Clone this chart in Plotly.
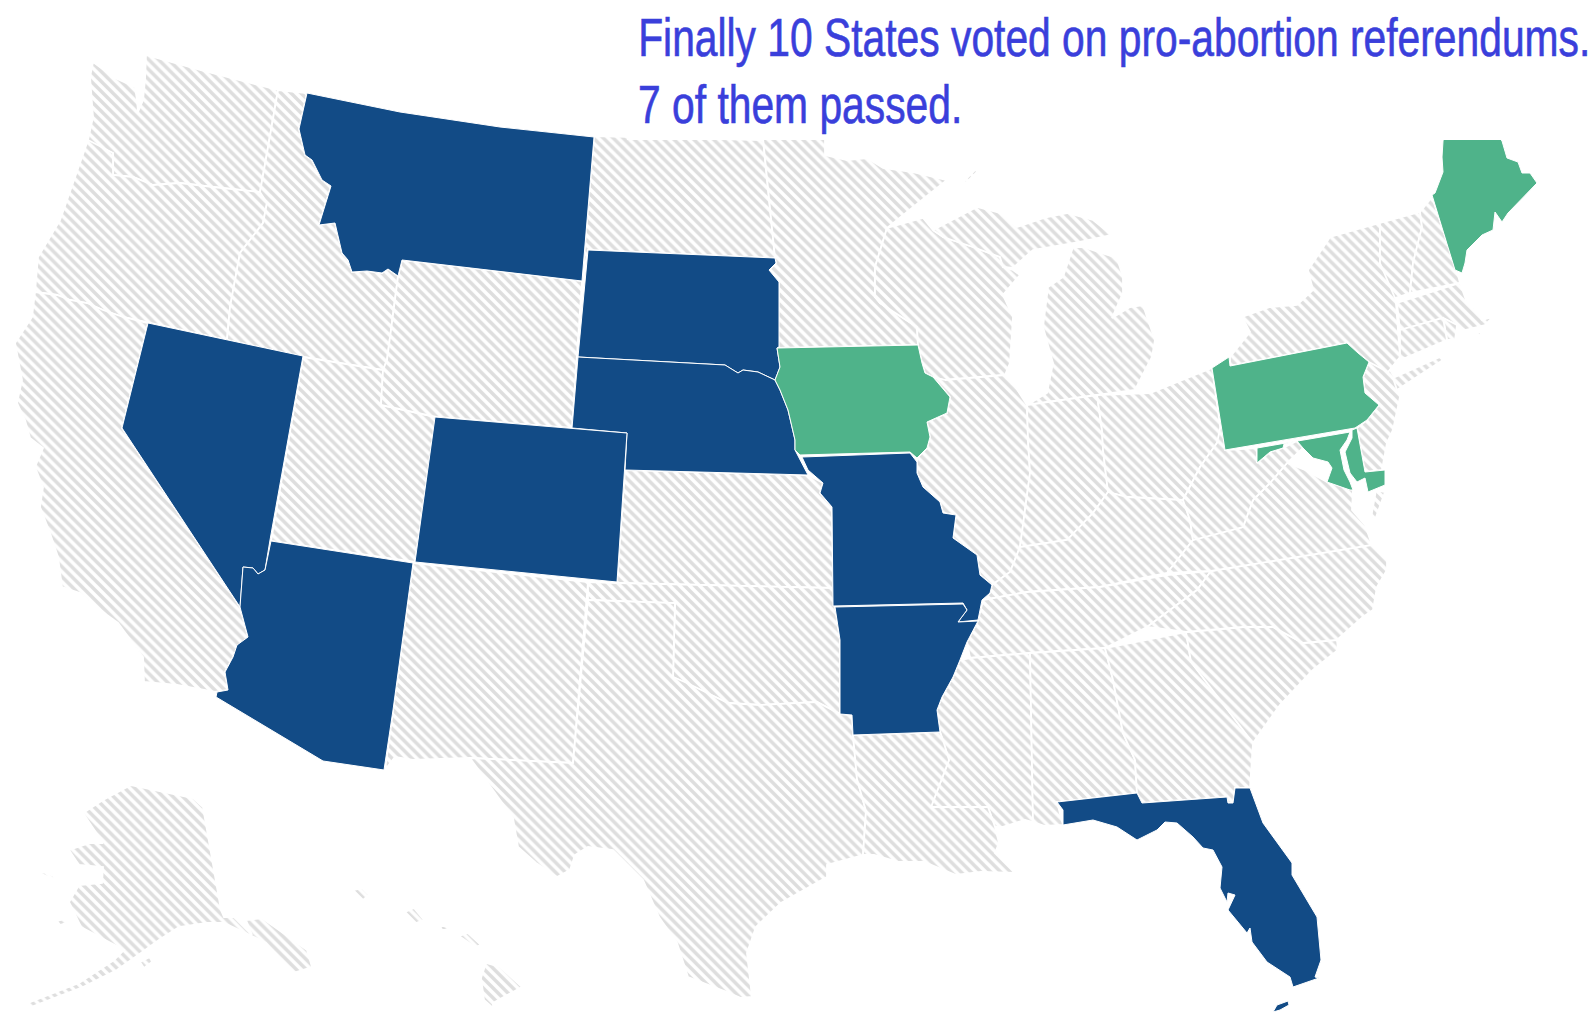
import plotly.graph_objects as go

# ---- outlines, in picture units; None starts a separate island ----
WA = [(93,62),(115,78),(135,87),(137,100),(138,112),(143,100),(145,80),(146,55),(200,70),(278,90),(267,153),(260,192),(213,187),(180,183),(153,185),(133,177),(113,175),(113,153),(90,143),(88,140),(93,117),(90,77)]
OR = [(88,140),(113,153),(113,175),(133,177),(153,185),(180,183),(213,187),(260,192),(267,203),(263,223),(240,253),(230,307),(227,340),(148,323),(123,317),(103,310),(87,303),(70,300),(57,295),(35,292),(38,257),(60,220),(83,153)]
CA = [(35,292),(57,295),(70,300),(87,303),(103,310),(123,317),(148,323),(122,428),(240,607),(248,637),(233,657),(225,672),(228,690),(215,692),(177,685),(144,682),(143,657),(118,623),(107,615),(80,593),(62,587),(58,557),(50,533),(40,507),(43,487),(35,467),(43,448),(30,438),(25,420),(17,403),(22,380),(15,343),(32,317)]
ID = [(278,90),(307,93),(299,129),(305,155),(312,160),(322,180),(331,186),(322,215),(319,225),(335,223),(342,253),(348,260),(352,272),(367,271),(382,273),(388,269),(398,276),(387,360),(383,370),(333,362),(303,357),(227,340),(230,307),(240,253),(263,223),(267,203),(260,192),(267,153)]
UT = [(303,357),(383,370),(381,405),(436,417),(415,562),(271,541)]
WY = [(402,260),(398,277),(387,360),(383,370),(381,405),(436,417),(572,428),(582,281),(490,270)]
NM = [(413,563),(588,582),(573,763),(470,758),(413,760),(395,757),(385,770),(393,710)]
ND = [(594,136),(763,140),(775,258),(588,250),(582,281)]
KS = [(625,470),(808,475),(823,483),(820,493),(832,507),(833,588),(617,583)]
OK = [(588,582),(617,583),(833,588),(835,607),(840,640),(840,714),(817,702),(760,705),(728,703),(687,683),(673,677),(675,603),(588,600)]
TX = [(470,758),(573,763),(588,600),(675,603),(673,677),(687,683),(728,703),(760,705),(817,702),(840,714),(852,715),(853,735),(857,779),(866,811),(863,855),(827,865),(827,877),(781,903),(756,927),(747,953),(752,997),(741,998),(727,992),(688,977),(677,943),(659,917),(643,880),(613,850),(588,847),(575,855),(570,870),(557,877),(536,863),(518,847),(513,818)]
MN = [(763,138),(825,138),(825,155),(847,160),(867,158),(883,168),(913,172),(947,180),(887,228),(875,267),(875,297),(880,303),(917,327),(918,345),(778,348),(779,282),(769,270),(776,263),(775,258)]
WI = [(887,228),(923,218),(933,230),(943,237),(973,247),(1000,257),(1003,267),(1013,270),(1020,275),(1003,295),(1013,317),(1010,363),(1005,375),(945,380),(933,377),(925,373),(922,363),(918,345),(917,327),(880,303),(875,297),(875,267)]
MI = [(1073,247),(1083,247),(1117,258),(1123,277),(1123,293),(1112,318),(1130,307),(1143,305),(1148,320),(1155,340),(1152,357),(1135,390),(1097,395),(1027,405),(1047,393),(1053,363),(1043,327),(1048,287),(1063,277),None,
      (933,230),(977,207),(1000,213),(1017,227),(1047,217),(1067,213),(1093,220),(1112,235),(1080,242),(1033,250),(1013,268),(1003,267),(1000,257),(973,247),(943,237),None,
      (964,181),(977,168),(978,171),(966,183)]
IL = [(945,380),(1005,375),(1013,383),(1027,405),(1028,440),(1030,473),(1020,547),(1010,572),(992,585),(980,575),(977,555),(953,538),(956,515),(943,513),(940,502),(923,487),(917,473),(917,458),(927,448),(930,437),(927,422),(947,413),(950,397),(933,377)]
IN = [(1027,405),(1097,395),(1102,430),(1103,450),(1108,492),(1093,513),(1067,540),(1020,547),(1030,473),(1028,440)]
OH = [(1097,395),(1150,393),(1212,368),(1222,440),(1217,443),(1200,467),(1183,500),(1127,497),(1108,492),(1103,450),(1102,430)]
KY = [(983,600),(990,593),(992,585),(1010,572),(1020,547),(1067,540),(1093,513),(1108,492),(1127,497),(1183,500),(1190,520),(1193,540),(1167,573),(1100,587),(1027,592)]
TN = [(983,600),(1027,592),(1100,587),(1167,575),(1211,571),(1197,590),(1170,610),(1147,627),(1105,648),(1030,653),(970,658),(967,642),(978,621)]
MS = [(970,658),(1030,653),(1033,822),(1025,820),(1002,827),(995,827),(988,807),(931,807),(949,760),(943,740),(940,732),(937,710),(942,697),(953,677),(960,660)]
AL = [(1030,653),(1105,648),(1113,680),(1123,733),(1135,760),(1137,793),(1057,802),(1063,825),(1045,826),(1033,822)]
LA = [(853,735),(940,732),(943,740),(949,760),(931,807),(988,807),(995,827),(999,843),(995,853),(1015,873),(981,872),(956,875),(924,862),(899,862),(874,855),(863,855),(866,811),(857,779)]
GA = [(1105,648),(1186,632),(1191,662),(1222,703),(1253,743),(1250,788),(1235,788),(1233,803),(1228,803),(1227,797),(1142,803),(1137,793),(1135,760),(1123,733),(1113,680)]
SC = [(1186,632),(1243,627),(1273,627),(1303,643),(1337,640),(1338,650),(1313,670),(1280,705),(1253,743),(1222,703),(1191,662)]
NC = [(1211,571),(1367,545),(1372,545),(1387,560),(1387,570),(1377,587),(1373,610),(1363,617),(1337,640),(1303,643),(1273,627),(1243,627),(1186,632),(1147,627),(1170,610),(1197,590)]
VA = [(1167,573),(1193,540),(1243,527),(1253,500),(1270,483),(1287,463),(1305,470),(1327,482),(1353,490),(1352,510),(1365,525),(1372,545),(1211,571),None,
      (1376,490),(1385,492),(1375,520),(1371,518)]
WV = [(1183,500),(1200,467),(1217,443),(1222,420),(1225,450),(1257,448),(1257,463),(1270,452),(1283,448),(1297,441),(1303,448),(1287,463),(1270,483),(1253,500),(1243,527),(1193,540),(1190,520)]
DE = [(1357,428),(1367,420),(1387,443),(1382,470),(1365,472)]
NJ = [(1369,362),(1390,370),(1395,378),(1400,397),(1393,430),(1387,443),(1367,420),(1379,405),(1365,393),(1363,377)]
NY = [(1230,366),(1347,343),(1358,353),(1369,362),(1388,372),(1400,357),(1395,290),(1380,263),(1380,223),(1330,237),(1308,270),(1313,290),(1297,305),(1270,307),(1242,317),(1250,332),(1230,357),None,
      (1393,378),(1440,357),(1443,360),(1397,390)]
VT = [(1380,223),(1420,212),(1422,227),(1413,263),(1410,293),(1395,298),(1380,263)]
NH = [(1420,212),(1432,197),(1458,275),(1460,283),(1410,293),(1413,263),(1422,227)]
MA = [(1397,303),(1460,283),(1467,303),(1477,312),(1482,320),(1493,317),(1485,325),(1465,330),(1457,325),(1443,318),(1400,330),None,
      (1476,332),(1481,332),(1480,336),(1476,336)]
RI = [(1443,318),(1457,325),(1455,340),(1447,340)]
CT = [(1400,330),(1443,318),(1447,340),(1405,358),(1400,357)]
AK = [(131,785),(155,790),(193,798),(203,807),(221,910),(224,917),(234,917),(252,935),(246,920),(262,918),(307,950),(312,967),(293,973),(266,943),(252,936),(224,923),(207,923),(179,927),(159,940),(141,953),(117,970),(83,987),(31,1007),(28,1003),(79,983),(114,960),(124,950),(81,927),(69,902),(79,885),(102,883),(103,867),(79,865),(69,850),(90,843),(103,843),(83,813),(103,800),None,
      (40,873),(46,872),(55,877),(52,879),None,(57,921),(65,919),(66,923),(60,925),None,(140,962),(150,957),(152,962),(144,968)]
HI = [(353,890),(362,888),(369,895),(363,900),None,(405,912),(414,908),(424,920),(416,923),None,(440,926),(447,926),(448,930),(442,930),None,
      (459,936),(468,933),(481,945),(475,947),None,(486,963),(500,967),(522,987),(493,1003),(493,1008),(484,1000),(481,978)]

MT = [(307,93),(400,112),(500,127),(594,137),(582,281),(490,270),(402,260),(398,276),(388,269),(382,273),(367,271),(352,272),(348,260),(342,253),(335,223),(319,225),(322,215),(331,186),(322,180),(312,160),(305,155),(299,129)]
SD = [(588,250),(775,258),(776,263),(769,270),(779,282),(779,347),(777,348),(780,367),(775,380),(758,372),(743,370),(738,373),(725,365),(578,357)]
NE = [(578,357),(725,365),(738,373),(743,370),(758,372),(775,380),(780,390),(788,410),(795,440),(795,450),(808,475),(625,470),(627,433),(572,428)]
CO = [(435,417),(627,433),(617,582),(415,562)]
NV = [(148,323),(303,356),(270,540),(265,570),(258,574),(253,568),(243,567),(240,607),(122,428)]
AZ = [(271,541),(413,563),(393,710),(384,770),(323,761),(216,697),(217,692),(228,690),(225,672),(233,657),(237,645),(248,637),(240,607),(243,567),(253,568),(258,574),(265,570)]
MO = [(802,457),(910,453),(917,462),(917,473),(923,487),(940,502),(943,513),(956,515),(953,538),(977,555),(980,575),(992,585),(990,593),(982,600),(978,620),(958,622),(967,610),(963,603),(833,606),(832,507),(820,493),(823,483),(808,470)]
AR = [(835,607),(963,604),(967,610),(958,622),(978,621),(967,642),(960,660),(953,677),(942,697),(937,710),(940,732),(853,735),(852,715),(840,714),(840,640)]
FL = [(1057,802),(1137,793),(1142,803),(1227,797),(1228,803),(1233,803),(1235,788),(1250,788),(1263,823),(1292,863),(1292,875),(1317,917),(1321,960),(1315,977),(1319,978),(1293,987),(1290,977),(1267,962),(1252,942),(1250,928),(1247,933),(1228,910),(1235,895),(1228,893),(1227,902),(1220,888),(1222,867),(1213,850),(1203,848),(1193,837),(1177,823),(1165,822),(1157,830),(1137,840),(1117,827),(1093,820),(1063,825),(1063,810),None,
      (1273,1012),(1277,1005),(1288,1001),(1289,1005),(1280,1010)]

IA = [(778,348),(918,345),(922,363),(925,373),(933,377),(950,397),(947,413),(927,422),(930,437),(927,448),(917,458),(910,452),(800,455),(795,450),(795,440),(788,410),(780,390),(775,380),(780,367),(777,348)]
PA = [(1212,368),(1229,357),(1230,366),(1347,343),(1358,353),(1369,362),(1363,377),(1365,393),(1379,405),(1367,420),(1355,428),(1225,450)]
MD = [(1257,448),(1350,432),(1347,440),(1340,450),(1344,470),(1350,482),(1353,490),(1350,490),(1327,482),(1332,468),(1328,462),(1313,458),(1303,448),(1297,441),(1284,444),(1283,448),(1270,452),(1257,463),None,
      (1352,430),(1357,428),(1365,472),(1385,470),(1385,485),(1368,492),(1365,478),(1357,482),(1350,473),(1347,460),(1345,452),(1352,438)]
ME = [(1432,195),(1435,193),(1443,172),(1442,157),(1443,141),(1447,118),(1484,118),(1502,141),(1507,158),(1518,162),(1522,173),(1530,173),(1537,183),(1508,213),(1502,222),(1495,212),(1493,230),(1482,235),(1467,250),(1465,263),(1462,273),(1455,270)]

OTHER_STATES = {"Washington":WA,"Oregon":OR,"California":CA,"Idaho":ID,"Utah":UT,"Wyoming":WY,"New Mexico":NM,"North Dakota":ND,"Kansas":KS,"Oklahoma":OK,"Texas":TX,"Minnesota":MN,"Wisconsin":WI,"Michigan":MI,"Illinois":IL,"Indiana":IN,"Ohio":OH,"Kentucky":KY,"Tennessee":TN,"Mississippi":MS,"Alabama":AL,"Louisiana":LA,"Georgia":GA,"South Carolina":SC,"North Carolina":NC,"Virginia":VA,"West Virginia":WV,"Delaware":DE,"New Jersey":NJ,"New York":NY,"Vermont":VT,"New Hampshire":NH,"Massachusetts":MA,"Rhode Island":RI,"Connecticut":CT,"Alaska":AK,"Hawaii":HI}
PASSED_STATES = {"Montana":MT,"South Dakota":SD,"Nebraska":NE,"Colorado":CO,"Nevada":NV,"Arizona":AZ,"Missouri":MO,"Arkansas":AR,"Florida":FL}
GREEN_STATES = {"Iowa":IA,"Pennsylvania":PA,"Maryland":MD,"Maine":ME}

TITLE_LINES = ["Finally 10 States voted on pro-abortion referendums.", "7 of them passed."]

def split(pts):
    xs = [None if p is None else p[0] for p in pts]
    ys = [None if p is None else p[1] for p in pts]
    return xs, ys

def closed(pts):
    out, start = [], None
    for p in pts:
        if p is None:
            out += [start, None]
            start = None
        else:
            if start is None:
                start = p
            out.append(p)
    out.append(start)
    return out

fig = go.Figure()
for name, pts in OTHER_STATES.items():
    x, y = split(closed(pts))
    fig.add_trace(go.Scatter(x=x, y=y, name=name, mode="lines", fill="toself", line=dict(color="white", width=1.8),
                             fillcolor="white",
                             fillpattern=dict(shape="\\", size=7, solidity=0.5, fgcolor="#bdbdbd", bgcolor="white"),
                             hoverinfo="name", showlegend=False))
for group, color in ((PASSED_STATES, "#124b86"), (GREEN_STATES, "#4fb38a")):
    for name, pts in group.items():
        x, y = split(closed(pts))
        fig.add_trace(go.Scatter(x=x, y=y, name=name, mode="lines", fill="toself", line=dict(color="white", width=1),
                                 fillcolor=color, hoverinfo="name", showlegend=False))

fig.update_layout(
    width=1596, height=1012, autosize=False, margin=dict(l=0, r=0, t=0, b=0),
    paper_bgcolor="white", plot_bgcolor="white",
    xaxis=dict(range=[0, 1596], visible=False, fixedrange=True),
    yaxis=dict(range=[1012, 0], visible=False, fixedrange=True),
    shapes=[dict(type="rect", xref="x", yref="y", x0=627, x1=1596, y0=0, y1=140, fillcolor="white", line_width=0, layer="above")],
)
for line, y in zip(TITLE_LINES, (38, 105)):
    fig.add_annotation(text=line, x=636, y=y, xref="x", yref="y", xanchor="left", yanchor="middle", showarrow=False,
                       font=dict(family="Liberation Sans, sans-serif", size=40.8, color="#3a3fdb"))

POST = """
document.body.style.margin='0';
function tallTitle(){
  document.querySelectorAll('.annotation-text').forEach(function(t){
    t.style.transformBox='fill-box';
    t.style.transformOrigin='center';
    t.style.transform='scale(1,1.3)';
    t.style.stroke='#3a3fdb';
    t.style.strokeWidth='0.5px';
  });
}
tallTitle();
setTimeout(tallTitle,100);
"""
fig.write_html("out.html", config=dict(displayModeBar=False), post_script=POST)
